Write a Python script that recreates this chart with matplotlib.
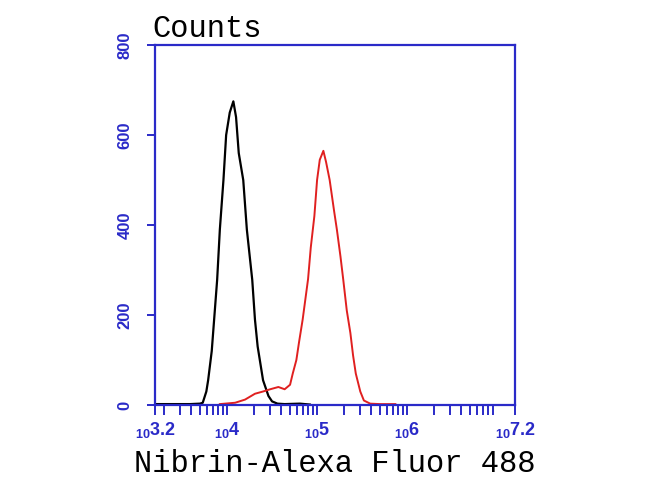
import numpy as np
import matplotlib.pyplot as plt
from matplotlib.ticker import FixedLocator, NullFormatter

# Flow cytometry histogram: isotype control (black) vs Nibrin stained (red)
# x values are log10 of fluorescence intensity, y values are counts

black_log = [3.22, 3.40, 3.59, 3.70, 3.73, 3.77, 3.79, 3.83, 3.89, 3.92, 3.96,
             3.99, 4.03, 4.07, 4.10, 4.13, 4.18, 4.22, 4.28, 4.31, 4.34, 4.40,
             4.46, 4.50, 4.56, 4.64, 4.81, 4.92]
black_counts = [2, 2, 2, 3, 5, 30, 55, 120, 278, 390, 500,
                600, 650, 675, 640, 560, 500, 390, 278, 190, 130, 55,
                20, 8, 3, 2, 3, 1]

red_log = [3.92, 4.09, 4.20, 4.31, 4.40, 4.48, 4.57, 4.64, 4.70, 4.73, 4.77,
           4.80, 4.84, 4.88, 4.90, 4.93, 4.97, 5.00, 5.03, 5.07, 5.10, 5.14,
           5.19, 5.22, 5.26, 5.29, 5.33, 5.37, 5.40, 5.43, 5.48, 5.52, 5.59,
           5.70, 5.87]
red_counts = [2, 5, 12, 25, 30, 35, 40, 35, 45, 70, 100,
              140, 190, 250, 280, 350, 420, 500, 545, 565, 540, 500,
              430, 390, 330, 280, 210, 160, 110, 70, 30, 10, 3,
              2, 2]

x_tick_exps = ["3.2", "4", "5", "6", "7.2"]
y_ticks = [0, 200, 400, 600, 800]

blue = "#2a2ac8"

fig = plt.figure(figsize=(6.5, 4.87), dpi=100)
ax = fig.add_axes([0.2385, 0.1684, 0.554, 0.739])

ax.plot(10 ** np.array(black_log), black_counts, color="black", lw=1.6)
ax.plot(10 ** np.array(red_log), red_counts, color="#e02020", lw=1.4)

ax.set_xscale("log")
ax.set_xlim(10 ** 3.2, 10 ** 7.2)
ax.set_ylim(0, 800)

# major ticks at the ends and the decades, minor log ticks in between
major = [10 ** float(e) for e in x_tick_exps]
minor = [k * 10 ** d for d in range(3, 8) for k in range(2, 10)
         if 10 ** 3.2 < k * 10 ** d < 10 ** 7.2]
ax.xaxis.set_major_locator(FixedLocator(major))
ax.xaxis.set_minor_locator(FixedLocator(minor))
ax.xaxis.set_minor_formatter(NullFormatter())
ax.set_xticklabels([r"$_{\mathregular{10}}\mathregular{%s}$" % e for e in x_tick_exps])

ax.set_yticks(y_ticks)
ax.set_yticklabels([str(v) for v in y_ticks])

for s in ax.spines.values():
    s.set_color(blue)
    s.set_linewidth(1.6)

ax.tick_params(axis="x", which="both", direction="out", length=7, width=1.4,
               color=blue, labelcolor=blue, labelsize=13, pad=4)
ax.tick_params(axis="y", direction="out", length=6, width=1.4, color=blue,
               labelcolor=blue, labelsize=12, pad=10, labelrotation=90)
for lab in ax.get_yticklabels():
    lab.set_fontfamily("Liberation Sans")
    lab.set_fontweight("bold")
    lab.set_va("center")
for lab in ax.get_xticklabels():
    lab.set_fontfamily("Liberation Sans")
    lab.set_fontweight("bold")

ax.set_xlabel("Nibrin-Alexa Fluor 488", fontfamily="Liberation Mono",
              fontsize=22, labelpad=6)
fig.text(152 / 650, 1 - 37 / 487, "Counts", fontfamily="Liberation Mono",
         fontsize=22, ha="left", va="baseline")

fig.savefig("out.png", dpi=100)
